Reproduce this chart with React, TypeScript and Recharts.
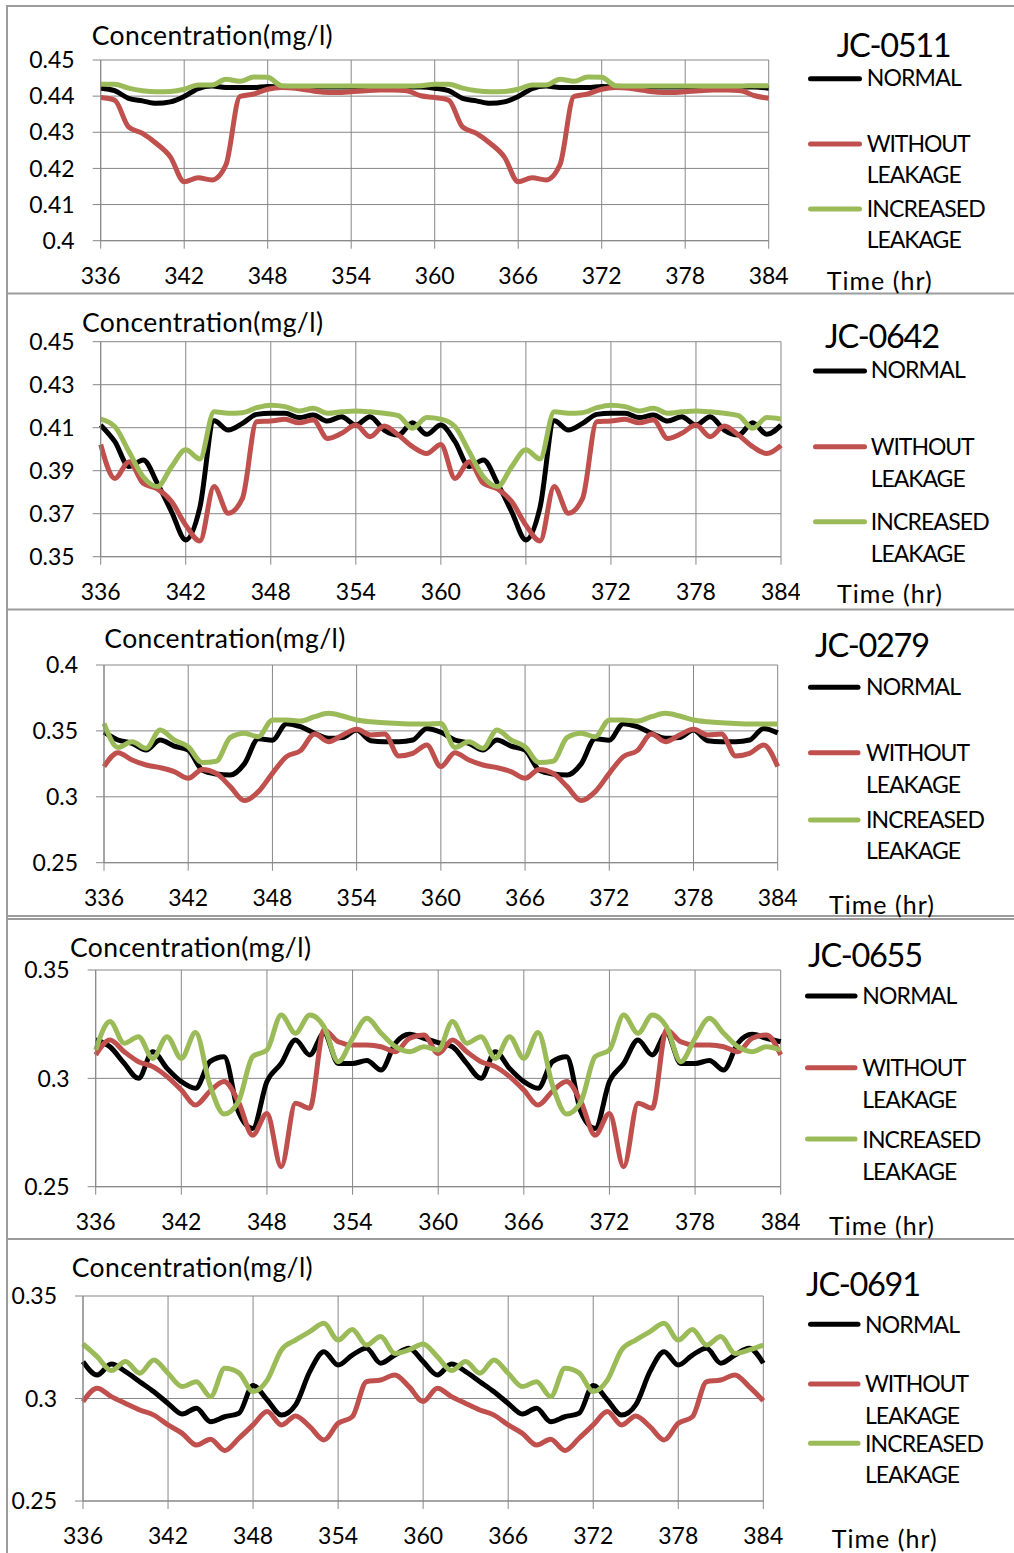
import React from 'react'
import { LineChart, Line, XAxis, YAxis, CartesianGrid } from 'recharts'

// hours on the x axis (two days, hourly)
const HOURS = [
  336, 337, 338, 339, 340, 341, 342, 343, 344, 345, 346, 347, 348, 349, 350, 351, 352, 353, 354, 355, 356, 357, 358, 359, 360,
  361, 362, 363, 364, 365, 366, 367, 368, 369, 370, 371, 372, 373, 374, 375, 376, 377, 378, 379, 380, 381, 382, 383, 384,
]
const X_TICKS = [336, 342, 348, 354, 360, 366, 372, 378, 384]

// JC-0511
const JC0511_NORMAL = [
  0.4422, 0.4415, 0.4394, 0.4387, 0.438, 0.4384, 0.4399, 0.4421, 0.4428, 0.4424, 0.4424, 0.4424, 0.4427, 0.4425, 0.4425, 0.4425, 0.4425, 0.4425, 0.4425, 0.4425, 0.4425, 0.4425, 0.4425, 0.4425, 0.4422,
  0.4415, 0.4394, 0.4387, 0.438, 0.4384, 0.4399, 0.4421, 0.4428, 0.4424, 0.4424, 0.4424, 0.4427, 0.4425, 0.4425, 0.4425, 0.4425, 0.4425, 0.4425, 0.4425, 0.4425, 0.4425, 0.4425, 0.4425, 0.4422,
]
const JC0511_WITHOUT = [
  0.4396, 0.4389, 0.4315, 0.4297, 0.4269, 0.4232, 0.4163, 0.4174, 0.4168, 0.421, 0.4399, 0.4406, 0.4419, 0.4424, 0.4422, 0.4416, 0.4411, 0.441, 0.4412, 0.4415, 0.4417, 0.4417, 0.4415, 0.4401, 0.4396,
  0.4389, 0.4315, 0.4297, 0.4269, 0.4232, 0.4163, 0.4174, 0.4168, 0.421, 0.4399, 0.4406, 0.4419, 0.4424, 0.4422, 0.4416, 0.4411, 0.441, 0.4412, 0.4415, 0.4417, 0.4417, 0.4415, 0.4401, 0.4394,
]
const JC0511_INCREASED = [
  0.4433, 0.4433, 0.4422, 0.4415, 0.4412, 0.4413, 0.4419, 0.4431, 0.4431, 0.4447, 0.4441, 0.4453, 0.4452, 0.4429, 0.4428, 0.4428, 0.4428, 0.4428, 0.4428, 0.4428, 0.4428, 0.4428, 0.4428, 0.4429, 0.4433,
  0.4433, 0.4422, 0.4415, 0.4412, 0.4413, 0.4419, 0.4431, 0.4431, 0.4447, 0.4441, 0.4453, 0.4452, 0.4429, 0.4428, 0.4428, 0.4428, 0.4428, 0.4428, 0.4428, 0.4428, 0.4428, 0.4428, 0.4429, 0.4429,
]
const JC0511_Y_TICKS = [0.4, 0.41, 0.42, 0.43, 0.44, 0.45]

// JC-0642
const JC0642_NORMAL = [
  0.4112, 0.4035, 0.3919, 0.395, 0.3841, 0.3709, 0.3578, 0.373, 0.4132, 0.4089, 0.412, 0.4162, 0.4167, 0.4167, 0.4147, 0.4159, 0.4131, 0.4151, 0.4112, 0.4151, 0.4089, 0.4066, 0.4123, 0.4069, 0.4112,
  0.4035, 0.3919, 0.395, 0.3841, 0.3709, 0.3578, 0.373, 0.4132, 0.4089, 0.412, 0.4162, 0.4167, 0.4167, 0.4147, 0.4159, 0.4131, 0.4151, 0.4112, 0.4151, 0.4089, 0.4066, 0.4123, 0.4069, 0.4112,
]
const JC0642_WITHOUT = [
  0.4022, 0.3864, 0.3942, 0.3841, 0.3815, 0.3756, 0.3647, 0.3573, 0.3826, 0.3702, 0.3771, 0.4128, 0.4131, 0.4139, 0.4123, 0.4136, 0.405, 0.4074, 0.4112, 0.4058, 0.4108, 0.4066, 0.4012, 0.398, 0.4022,
  0.3864, 0.3942, 0.3841, 0.3815, 0.3756, 0.3647, 0.3573, 0.3826, 0.3702, 0.3771, 0.4128, 0.4131, 0.4139, 0.4123, 0.4136, 0.405, 0.4074, 0.4112, 0.4058, 0.4108, 0.4066, 0.4012, 0.398, 0.4018,
]
const JC0642_INCREASED = [
  0.414, 0.4105, 0.3988, 0.3872, 0.3826, 0.3919, 0.3997, 0.3955, 0.4174, 0.4167, 0.417, 0.4193, 0.4205, 0.4198, 0.4178, 0.419, 0.4167, 0.4174, 0.4178, 0.4174, 0.4167, 0.4156, 0.4097, 0.4147, 0.414,
  0.4105, 0.3988, 0.3872, 0.3826, 0.3919, 0.3997, 0.3955, 0.4174, 0.4167, 0.417, 0.4193, 0.4205, 0.4198, 0.4178, 0.419, 0.4167, 0.4174, 0.4178, 0.4174, 0.4167, 0.4156, 0.4097, 0.4147, 0.414,
]
const JC0642_Y_TICKS = [0.35, 0.37, 0.39, 0.41, 0.43, 0.45]

// JC-0279
const JC0279_NORMAL = [
  0.349, 0.3431, 0.3406, 0.3355, 0.3431, 0.3385, 0.3355, 0.3203, 0.3173, 0.3165, 0.325, 0.344, 0.343, 0.3555, 0.3532, 0.3482, 0.3444, 0.3449, 0.3507, 0.3426, 0.3418, 0.3418, 0.3431, 0.3519, 0.349,
  0.3431, 0.3406, 0.3355, 0.3431, 0.3385, 0.3355, 0.3203, 0.3173, 0.3165, 0.325, 0.344, 0.343, 0.3555, 0.3532, 0.3482, 0.3444, 0.3449, 0.3507, 0.3426, 0.3418, 0.3418, 0.3431, 0.3519, 0.3485,
]
const JC0279_WITHOUT = [
  0.3229, 0.3335, 0.3279, 0.3241, 0.3221, 0.3191, 0.314, 0.3208, 0.3178, 0.3077, 0.2971, 0.3039, 0.3178, 0.3305, 0.335, 0.3476, 0.3418, 0.3469, 0.3512, 0.3469, 0.3476, 0.331, 0.333, 0.3393, 0.3229,
  0.3335, 0.3279, 0.3241, 0.3221, 0.3191, 0.314, 0.3208, 0.3178, 0.3077, 0.2971, 0.3039, 0.3178, 0.3305, 0.335, 0.3476, 0.3418, 0.3469, 0.3512, 0.3469, 0.3476, 0.331, 0.333, 0.3393, 0.3229,
]
const JC0279_INCREASED = [
  0.3557, 0.3375, 0.3418, 0.3368, 0.3507, 0.3431, 0.338, 0.326, 0.327, 0.345, 0.3482, 0.3456, 0.3583, 0.3583, 0.3575, 0.3608, 0.3633, 0.3613, 0.3583, 0.357, 0.3562, 0.3557, 0.3552, 0.3552, 0.3557,
  0.3375, 0.3418, 0.3368, 0.3507, 0.3431, 0.338, 0.326, 0.327, 0.345, 0.3482, 0.3456, 0.3583, 0.3583, 0.3575, 0.3608, 0.3633, 0.3613, 0.3583, 0.357, 0.3562, 0.3557, 0.3552, 0.3552, 0.3552,
]
const JC0279_Y_TICKS = [0.25, 0.3, 0.35, 0.4]

// JC-0655
const JC0655_NORMAL = [
  0.3177, 0.3146, 0.3069, 0.3, 0.3123, 0.3046, 0.2985, 0.2954, 0.3077, 0.31, 0.2846, 0.2769, 0.2985, 0.3069, 0.3177, 0.3108, 0.3208, 0.3069, 0.3069, 0.3082, 0.3038, 0.3162, 0.3203, 0.3185, 0.3165,
  0.3146, 0.3069, 0.3, 0.3123, 0.3046, 0.2985, 0.2954, 0.3077, 0.31, 0.2846, 0.2769, 0.2985, 0.3069, 0.3177, 0.3108, 0.3208, 0.3069, 0.3069, 0.3082, 0.3038, 0.3162, 0.3203, 0.3185, 0.3169,
]
const JC0655_WITHOUT = [
  0.3108, 0.3177, 0.3123, 0.3077, 0.3054, 0.3008, 0.2946, 0.2877, 0.294, 0.2985, 0.2892, 0.2738, 0.2838, 0.2592, 0.2885, 0.2862, 0.3223, 0.3169, 0.3154, 0.3154, 0.3146, 0.3123, 0.3185, 0.32, 0.3115,
  0.3177, 0.3123, 0.3077, 0.3054, 0.3008, 0.2946, 0.2877, 0.294, 0.2985, 0.2892, 0.2738, 0.2838, 0.2592, 0.2885, 0.2862, 0.3223, 0.3169, 0.3154, 0.3154, 0.3146, 0.3123, 0.3185, 0.32, 0.3108,
]
const JC0655_INCREASED = [
  0.3131, 0.3262, 0.3162, 0.3192, 0.3092, 0.3192, 0.3092, 0.3212, 0.297, 0.2835, 0.2892, 0.31, 0.3131, 0.3292, 0.3208, 0.3292, 0.3238, 0.3077, 0.3185, 0.3277, 0.3208, 0.3146, 0.3123, 0.3146, 0.3131,
  0.3262, 0.3162, 0.3192, 0.3092, 0.3192, 0.3092, 0.3212, 0.297, 0.2835, 0.2892, 0.31, 0.3131, 0.3292, 0.3208, 0.3292, 0.3238, 0.3077, 0.3185, 0.3277, 0.3208, 0.3146, 0.3123, 0.3146, 0.3131,
]
const JC0655_Y_TICKS = [0.25, 0.3, 0.35]

// JC-0691
const JC0691_NORMAL = [
  0.318, 0.3115, 0.3168, 0.3131, 0.3082, 0.3033, 0.2976, 0.2924, 0.2952, 0.2887, 0.2911, 0.2928, 0.3063, 0.2993, 0.2919, 0.2969, 0.3131, 0.3228, 0.3163, 0.3212, 0.3245, 0.3172, 0.3212, 0.3245, 0.318,
  0.3115, 0.3168, 0.3131, 0.3082, 0.3033, 0.2976, 0.2924, 0.2952, 0.2887, 0.2911, 0.2928, 0.3063, 0.2993, 0.2919, 0.2969, 0.3131, 0.3228, 0.3163, 0.3212, 0.3245, 0.3172, 0.3212, 0.3245, 0.3172,
]
const JC0691_WITHOUT = [
  0.2985, 0.305, 0.3009, 0.2976, 0.2944, 0.2919, 0.2871, 0.283, 0.2773, 0.2801, 0.2746, 0.2806, 0.2871, 0.2936, 0.2871, 0.2915, 0.2863, 0.2798, 0.2879, 0.2911, 0.3082, 0.309, 0.3115, 0.3058, 0.2985,
  0.305, 0.3009, 0.2976, 0.2944, 0.2919, 0.2871, 0.283, 0.2773, 0.2801, 0.2746, 0.2806, 0.2871, 0.2936, 0.2871, 0.2915, 0.2863, 0.2798, 0.2879, 0.2911, 0.3082, 0.309, 0.3115, 0.3058, 0.2989,
]
const JC0691_INCREASED = [
  0.3266, 0.3204, 0.3136, 0.318, 0.3123, 0.3188, 0.3123, 0.3058, 0.3082, 0.3009, 0.3147, 0.3125, 0.3034, 0.309, 0.3237, 0.3285, 0.3326, 0.3367, 0.3285, 0.3337, 0.3261, 0.3302, 0.322, 0.3237, 0.3266,
  0.3204, 0.3136, 0.318, 0.3123, 0.3188, 0.3123, 0.3058, 0.3082, 0.3009, 0.3147, 0.3125, 0.3034, 0.309, 0.3237, 0.3285, 0.3326, 0.3367, 0.3285, 0.3337, 0.3261, 0.3302, 0.322, 0.3237, 0.3261,
]
const JC0691_Y_TICKS = [0.25, 0.3, 0.35]

const LEGEND_LINES = ['NORMAL', 'WITHOUT', 'LEAKAGE', 'INCREASED', 'LEAKAGE']

const FONT = 'Lato, "Open Sans", sans-serif'
const GRID = '#878787'
const BORDER = '#9c9c9c'

const SERIES = [
  { key: 'normal', color: '#000000' },
  { key: 'without', color: '#C0504D' },
  { key: 'increased', color: '#9BBB59' },
]

const makeRows = (n: number[], w: number[], inc: number[]) =>
  HOURS.map((hour, i) => ({ hour, normal: n[i], without: w[i], increased: inc[i] }))

// layout in page pixels
const PANELS = [
  {
    name: 'JC-0511', rows: makeRows(JC0511_NORMAL, JC0511_WITHOUT, JC0511_INCREASED), yTicks: JC0511_Y_TICKS,
    top: 6, height: 288, plot: { left: 100.7, right: 768.7, top: 60, bottom: 240.7 },
    conc: [91.7, 45], title: [836.7, 56.7], lineX: [810.5, 859.5], lineY: [78.7, 144, 209],
    textX: 866.7, textY: [86, 151.7, 183.3, 216.7, 248.3], time: [826.7, 290],
  },
  {
    name: 'JC-0642', rows: makeRows(JC0642_NORMAL, JC0642_WITHOUT, JC0642_INCREASED), yTicks: JC0642_Y_TICKS,
    top: 294, height: 316, plot: { left: 100.7, right: 781, top: 341.7, bottom: 556.7 },
    conc: [82, 331.7], title: [825, 348.3], lineX: [815.5, 864.5], lineY: [371, 446.7, 521.7],
    textX: 870.7, textY: [378.3, 455, 486.7, 530, 561.7], time: [837, 603.3],
  },
  {
    name: 'JC-0279', rows: makeRows(JC0279_NORMAL, JC0279_WITHOUT, JC0279_INCREASED), yTicks: JC0279_Y_TICKS,
    top: 610, height: 306, plot: { left: 104, right: 777.7, top: 665, bottom: 862.7 },
    conc: [104.3, 648.3], title: [815, 656.7], lineX: [810.5, 858], lineY: [687.3, 752.7, 820],
    textX: 866, textY: [695, 761, 793.3, 828.3, 859.3], time: [829, 914],
  },
  {
    name: 'JC-0655', rows: makeRows(JC0655_NORMAL, JC0655_WITHOUT, JC0655_INCREASED), yTicks: JC0655_Y_TICKS,
    top: 918, height: 321, plot: { left: 95.7, right: 780.7, top: 970, bottom: 1186.7 },
    conc: [70, 956.7], title: [808, 966.7], lineX: [807.5, 855], lineY: [996, 1067.7, 1139],
    textX: 862.3, textY: [1004.3, 1076, 1107.7, 1147.7, 1180], time: [829, 1235],
  },
  {
    name: 'JC-0691', rows: makeRows(JC0691_NORMAL, JC0691_WITHOUT, JC0691_INCREASED), yTicks: JC0691_Y_TICKS,
    top: 1240, height: 313, plot: { left: 83, right: 763.3, top: 1296, bottom: 1501 },
    conc: [71.7, 1277.3], title: [806, 1296], lineX: [810.5, 858], lineY: [1324.3, 1384, 1443.3],
    textX: 865, textY: [1332.7, 1391.7, 1424.3, 1451.7, 1483.3], time: [831.7, 1548.3],
  },
]

// measured text widths in the reference
const LEGEND_WIDTHS: Record<string, number> = { NORMAL: 95, WITHOUT: 104, LEAKAGE: 95, INCREASED: 119 }

const CHART_W = 800
const X_AXIS_H = 40

function Panel({ p }: { p: (typeof PANELS)[number] }) {
  const margin = {
    top: p.plot.top - p.top,
    right: CHART_W - p.plot.right,
    left: 0,
    bottom: p.height - (p.plot.bottom - p.top) - X_AXIS_H,
  }
  const tick = { fontSize: 23, fill: '#000', fontFamily: FONT }
  return (
    <div style={{ position: 'absolute', left: 0, top: p.top }}>
      <LineChart width={CHART_W} height={p.height} data={p.rows} margin={margin}>
        <CartesianGrid stroke={GRID} strokeWidth={1} />
        <XAxis
          dataKey="hour"
          type="number"
          domain={[336, 384]}
          ticks={X_TICKS}
          height={X_AXIS_H}
          tick={tick}
          tickSize={8}
          tickMargin={18.5}
          stroke={GRID}
          interval={0}
        />
        <YAxis
          type="number"
          domain={[p.yTicks[0], p.yTicks[p.yTicks.length - 1]]}
          ticks={p.yTicks}
          width={p.plot.left}
          tick={tick}
          tickSize={8}
          tickMargin={18}
          stroke={GRID}
          interval={0}
          allowDataOverflow
        />
        {SERIES.map((s) => (
          <Line
            key={s.key}
            dataKey={s.key}
            type="monotone"
            stroke={s.color}
            strokeWidth={5}
            strokeLinejoin="round"
            dot={false}
            activeDot={false}
            isAnimationActive={false}
          />
        ))}
      </LineChart>
    </div>
  )
}

function Labels() {
  return (
    <svg
      width={1014}
      height={1553}
      style={{ position: 'absolute', left: 0, top: 0, pointerEvents: 'none' }}
      fontFamily={FONT}
    >
      {/* panel frames */}
      <line x1={7} y1={6} x2={7} y2={1553} stroke={BORDER} strokeWidth={2} />
      {[6, 293.5, 609.5, 916, 919, 1239].map((y) => (
        <line key={y} x1={6} y1={y} x2={1014} y2={y} stroke={BORDER} strokeWidth={2} />
      ))}
      {PANELS.map((p) => (
        <g key={p.name}>
          <text x={p.conc[0]} y={p.conc[1]} fontSize={26.5} textLength={241}>Concentration(mg/l)</text>
          <text x={p.title[0]} y={p.title[1]} fontSize={32.5} textLength={115}>{p.name}</text>
          {SERIES.map((s, i) => (
            <line
              key={s.key}
              x1={p.lineX[0]}
              x2={p.lineX[1]}
              y1={p.lineY[i]}
              y2={p.lineY[i]}
              stroke={s.color}
              strokeWidth={5}
              strokeLinecap="round"
            />
          ))}
          {LEGEND_LINES.map((t, i) => (
            <text key={i} x={p.textX} y={p.textY[i]} fontSize={23} textLength={LEGEND_WIDTHS[t]}>{t}</text>
          ))}
          <text x={p.time[0]} y={p.time[1]} fontSize={25} textLength={105}>Time (hr)</text>
        </g>
      ))}
    </svg>
  )
}

export default function App() {
  return (
    <div style={{ position: 'absolute', left: 0, top: 0, width: 1014, height: 1553, background: '#fff', overflow: 'hidden' }}>
      {PANELS.map((p) => (
        <Panel key={p.name} p={p} />
      ))}
      <Labels />
    </div>
  )
}
